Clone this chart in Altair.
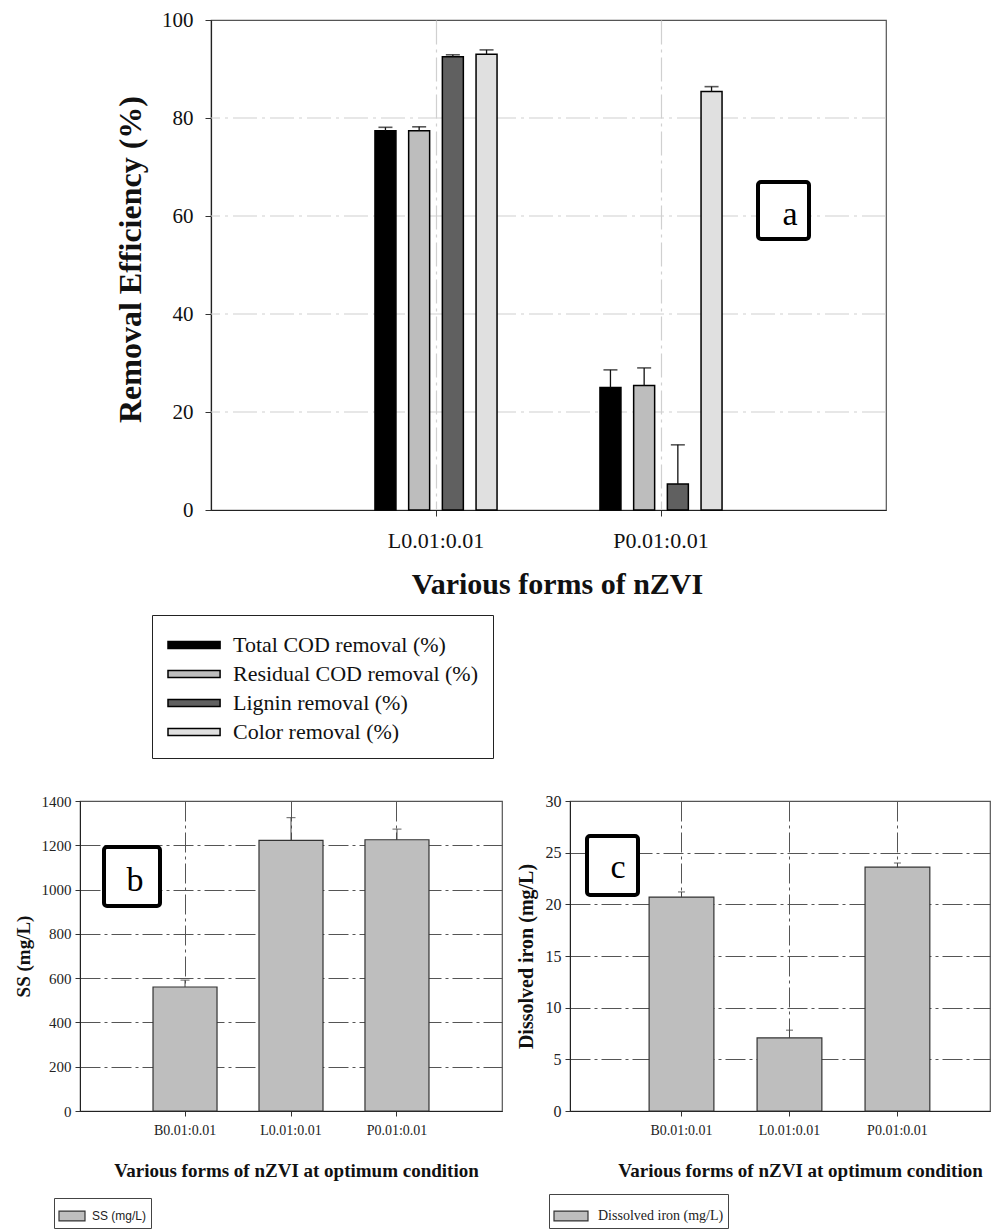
import altair as alt
import pandas as pd

SERIF = "Liberation Serif"
SANS = "Liberation Sans"

# ---------------- Panel a data ----------------
forms_a = ["L0.01:0.01", "P0.01:0.01"]
params_a = ["Total COD removal (%)", "Residual COD removal (%)",
            "Lignin removal (%)", "Color removal (%)"]
total_cod = [77.4, 25.0]
total_cod_err = [0.7, 3.6]
residual_cod = [77.4, 25.4]
residual_cod_err = [0.8, 3.6]
lignin = [92.5, 5.3]
lignin_err = [0.4, 8.0]
color_rm = [93.0, 85.4]
color_rm_err = [0.9, 1.0]
colors_a = ["#000000", "#bdbdbd", "#606060", "#e0e0e0"]
yticks_a = [0, 20, 40, 60, 80, 100]
ygrid_a = [20, 40, 60, 80]

# ---------------- Panels b and c data ----------------
forms_bc = ["B0.01:0.01", "L0.01:0.01", "P0.01:0.01"]
ss = [560, 1222, 1225]
ss_err = [31, 103, 48]
iron = [20.7, 7.07, 23.6]
iron_err = [0.5, 0.75, 0.4]

rows = []
for p, vals, errs in zip(params_a,
                         [total_cod, residual_cod, lignin, color_rm],
                         [total_cod_err, residual_cod_err, lignin_err, color_rm_err]):
    for f, v, e in zip(forms_a, vals, errs):
        rows.append({"form": f, "param": p, "value": v, "top": v + e})
df_a = pd.DataFrame(rows)

df_b = pd.DataFrame({"form": forms_bc, "value": ss,
                     "top": [v + e for v, e in zip(ss, ss_err)],
                     "series_b": ["SS (mg/L)"] * 3})
df_c = pd.DataFrame({"form": forms_bc, "value": iron,
                     "top": [v + e for v, e in zip(iron, iron_err)],
                     "series_c": ["Dissolved iron (mg/L)"] * 3})

# ---------------- Panel a ----------------
ax_xa = alt.Axis(title="Various forms of nZVI", labelAngle=0, labelFont=SERIF,
                 labelFontSize=22, labelColor="#111", labelPadding=14,
                 tickSize=6, tickColor="#333", domainColor="#222", domainWidth=1.2,
                 titleFont=SERIF, titleFontSize=30, titleFontWeight="bold",
                 titleColor="#111", titlePadding=18, titleX=346,
                 grid=True, gridColor="#d0d0d0", gridDash=[24, 5, 3, 5],
                 gridWidth=1.2, bandPosition=0.5, tickBand="center")
ax_ya = alt.Axis(values=yticks_a, title="Removal Efficiency (%)",
                 labelFont=SERIF, labelFontSize=21, labelColor="#111",
                 labelPadding=12, tickSize=6, tickColor="#333",
                 domainColor="#222", domainWidth=1.2,
                 titleFont=SERIF, titleFontSize=32, titleFontWeight="bold",
                 titleColor="#111", titleX=-64, titleY=239,
                 minExtent=100, maxExtent=100, grid=False)
xa = alt.X("form:N", sort=forms_a,
           scale=alt.Scale(domain=forms_a, paddingInner=0, paddingOuter=0.5, align=0.5),
           axis=ax_xa)
# empty slots at both ends keep the four bars of a group close together
offset_domain = [" "] + params_a + ["  "]
xo = alt.XOffset("param:N",
                 scale=alt.Scale(domain=offset_domain, paddingInner=0.377, paddingOuter=0.527))
ysc_a = alt.Scale(domain=[0, 100], nice=False)

grid_a = alt.Chart(pd.DataFrame({"g": ygrid_a})).mark_rule(
    color="#d0d0d0", strokeWidth=1.2, strokeDash=[24, 5, 3, 5]).encode(
    y=alt.Y("g:Q", scale=ysc_a, axis=ax_ya))

base_a = alt.Chart(df_a)
bars_a = base_a.mark_bar(stroke="#000", strokeWidth=1.5).encode(
    x=xa, xOffset=xo,
    y=alt.Y("value:Q", scale=ysc_a, axis=ax_ya),
    color=alt.Color("param:N", sort=params_a,
                    scale=alt.Scale(domain=params_a, range=colors_a),
                    legend=alt.Legend(title=None, orient="none", legendX=72, legendY=595,
                                      symbolType="M-1,-0.25H2.72V0.25H-1Z",
                                      symbolSize=784,
                                      symbolStrokeColor="#000", symbolStrokeWidth=1.5,
                                      symbolOpacity=1,
                                      labelFont=SERIF, labelFontSize=22, labelColor="#111",
                                      labelOffset=36, labelLimit=0,
                                      padding=15, rowPadding=3,
                                      strokeColor="#222", fillColor="white")),
)
err_a = base_a.mark_rule(color="#111", strokeWidth=1.3).encode(
    x=xa, xOffset=xo,
    y=alt.Y("value:Q", scale=ysc_a, axis=ax_ya), y2="top:Q")
cap_a = base_a.mark_tick(color="#111", size=14, thickness=1.6, orient="horizontal").encode(
    x=xa, xOffset=xo,
    y=alt.Y("top:Q", scale=ysc_a, axis=ax_ya))

tag_a = pd.DataFrame({"tag": ["a"]})
box_a = alt.Chart(tag_a).mark_rect(fill="white", stroke="#000", strokeWidth=4,
                                   cornerRadius=3).encode(
    x=alt.value(547), x2=alt.value(598), y=alt.value(162), y2=alt.value(219))
txt_a = alt.Chart(tag_a).mark_text(font=SERIF, fontSize=34, baseline="alphabetic",
                                   color="#000").encode(
    text="tag:N", x=alt.value(579), y=alt.value(205))

chart_a = alt.layer(grid_a, bars_a, err_a, cap_a, box_a, txt_a).properties(
    width=675, height=490)

# invisible spacer that shifts panel a to the right of panel b
spacer = alt.Chart(pd.DataFrame({"s": [0]})).mark_point(opacity=0).properties(
    width=20, height=10, view=alt.ViewBackground(stroke="transparent"))

# ---------------- Panels b / c helpers ----------------
GRID_B = dict(grid=True, gridColor="#555", gridDash=[20, 4, 3, 4], gridWidth=1)


def small_panel(df, sfield, ydomain, yvalues, ytitle, width, height, pin, pout, align,
                min_ext, title_x, ytitle_x, legend_font, legend_size, legend_path,
                legend_symsize, legend_offset, legend_x, legend_y, cap_size, tag,
                tag_box, tag_txt, label_size):
    ysc = alt.Scale(domain=ydomain, nice=False)
    ax_x = alt.Axis(title="Various forms of nZVI at optimum condition", labelAngle=0,
                    labelFont=SERIF, labelFontSize=14, labelColor="#222", labelPadding=7,
                    tickSize=5, tickColor="#333", domainColor="#222",
                    titleFont=SERIF, titleFontSize=19, titleFontWeight="bold",
                    titleColor="#111", titlePadding=24, titleX=title_x,
                    bandPosition=0.5, tickBand="center", **GRID_B)
    ax_y = alt.Axis(values=yvalues, format="d", title=ytitle, labelFont=SERIF,
                    labelFontSize=label_size, labelColor="#222", labelPadding=4,
                    tickSize=5, tickColor="#333", domainColor="#222",
                    titleFont=SERIF, titleFontSize=19 if ytitle.startswith("SS") else 20,
                    titleFontWeight="bold", titleColor="#111", titleX=ytitle_x,
                    minExtent=min_ext, maxExtent=min_ext, **GRID_B)
    x = alt.X("form:N", sort=forms_bc,
              scale=alt.Scale(domain=forms_bc, paddingInner=pin, paddingOuter=pout,
                              align=align), axis=ax_x)
    base = alt.Chart(df)
    bars = base.mark_bar(stroke="#333", strokeWidth=1.2).encode(
        x=x, y=alt.Y("value:Q", scale=ysc, axis=ax_y),
        color=alt.Color(f"{sfield}:N",
                        scale=alt.Scale(domain=[df[sfield][0]], range=["#bebebe"]),
                        legend=alt.Legend(title=None, orient="none", legendX=legend_x,
                                          legendY=legend_y, symbolType=legend_path,
                                          symbolSize=legend_symsize,
                                          symbolStrokeColor="#333", symbolStrokeWidth=1.2,
                                          symbolOpacity=1, labelFont=legend_font,
                                          labelFontSize=legend_size, labelColor="#222",
                                          labelOffset=legend_offset, labelLimit=0,
                                          padding=4, strokeColor="#444",
                                          fillColor="white")))
    err = base.mark_rule(color="#444", strokeWidth=1).encode(
        x=x, y=alt.Y("value:Q", scale=ysc, axis=ax_y), y2="top:Q")
    cap = base.mark_tick(color="#444", size=cap_size, thickness=1.2,
                         orient="horizontal").encode(
        x=x, y=alt.Y("top:Q", scale=ysc, axis=ax_y))
    tdf = pd.DataFrame({"tag": [tag]})
    box = alt.Chart(tdf).mark_rect(fill="white", stroke="#000", strokeWidth=4,
                                   cornerRadius=3).encode(
        x=alt.value(tag_box[0]), x2=alt.value(tag_box[1]),
        y=alt.value(tag_box[2]), y2=alt.value(tag_box[3]))
    txt = alt.Chart(tdf).mark_text(font=SERIF, fontSize=34, baseline="alphabetic",
                                   color="#000").encode(
        text="tag:N", x=alt.value(tag_txt[0]), y=alt.value(tag_txt[1]))
    return alt.layer(bars, err, cap, box, txt).properties(width=width, height=height)


chart_b = small_panel(df_b, "series_b", [0, 1400], [0, 200, 400, 600, 800, 1000, 1200, 1400],
                      "SS (mg/L)", 422, 310, 0.396, 0.689, 0.5, 71, 216, -47,
                      SANS, 12, "M-1,-0.38H1V0.38H-1Z", 676, 6, -26, 397, 9, "b",
                      (24, 80, 46, 105), (55, 90), 15)
chart_c = small_panel(df_c, "series_c", [0, 30], [0, 5, 10, 15, 20, 25, 30],
                      "Dissolved iron (mg/L)", 420, 310, 0.40, 0.645, 0.568, 66, 230, -34,
                      SERIF, 14, "M-1,-0.29H1V0.29H-1Z", 1156, 9, -21, 393, 7, "c",
                      (17, 68, 35, 94), (48, 77), 16)

top_row = alt.hconcat(spacer, chart_a, spacing=9)
bottom_row = alt.hconcat(chart_b, chart_c, spacing=0).resolve_scale(
    color="independent").resolve_legend(color="independent")

chart = alt.vconcat(
    top_row,
    bottom_row,
    spacing=33,
).resolve_scale(color="independent").resolve_legend(color="independent").properties(
    padding={"left": 0, "top": 0, "right": 0, "bottom": 0}
).configure_view(stroke="#555", strokeWidth=1.2)

chart.save("out.html", embed_options={"renderer": "svg", "actions": False})
